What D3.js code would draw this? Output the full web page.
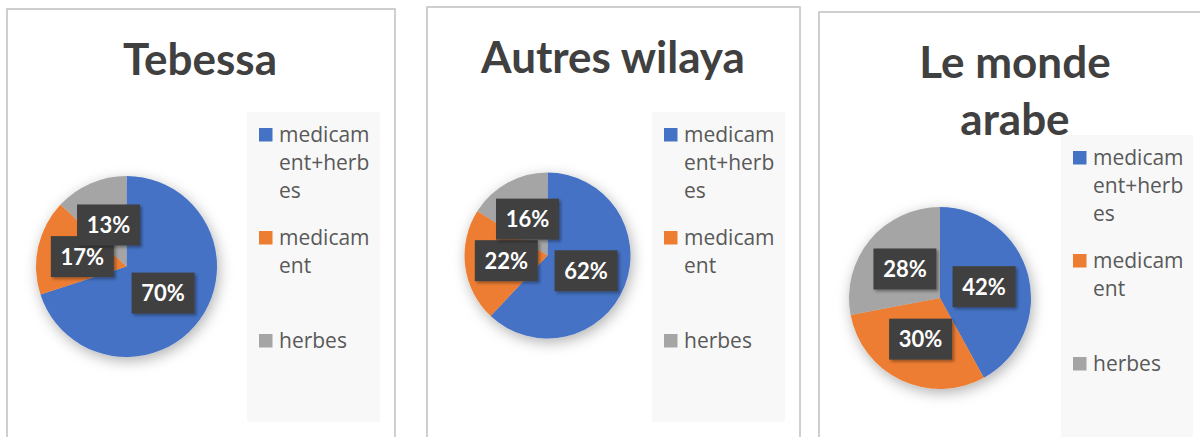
<!DOCTYPE html>
<meta charset="utf-8">

<script src="https://d3js.org/d3.v7.min.js"></script>

<style type="text/css">

body {
  margin: 0;
  background: white;
}

.frame {
  fill: white;
  stroke: #c0c0c0;
  stroke-width: 1.5px;
}

.title {
  font-family: Lato, sans-serif;
  font-weight: 700;
  font-size: 44px;
  fill: #404040;
}

.legendBox {
  fill: #f8f8f8;
}

.legend text {
  font-family: "Open Sans", sans-serif;
  font-size: 21px;
  fill: #595959;
}

.labelBox {
  fill: #404040;
}

.labelText {
  font-family: Lato, sans-serif;
  font-weight: 700;
  font-size: 22px;
  fill: white;
}

</style>

<body>
</body>

<script>

  const width = 1200;
  const height = 437;

  // data
  const categories = ["medicament+herbes", "medicament", "herbes"];
  const titles = ["Tebessa", "Autres wilaya", "Le monde arabe"];
  const tebessa = [70, 17, 13];
  const autresWilaya = [62, 22, 16];
  const mondeArabe = [42, 30, 28];
  const series = [tebessa, autresWilaya, mondeArabe];

  const colors = d3.scaleOrdinal()
    .domain(categories)
    .range(["#4472c4", "#ed7d31", "#a5a5a5"]);

  // layout of the three chart boxes
  const panels = [
    {x: 7,   y: 9,  w: 388, titleX: 200,  titleY: 75, cx: 126.5, cy: 266.5, r: 90.5, legX: 247,  legY: 112, legW: 133},
    {x: 427, y: 7,  w: 373, titleX: 613,  titleY: 73, cx: 547.5, cy: 255.5, r: 83,   legX: 652,  legY: 112, legW: 133},
    {x: 819, y: 12, w: 400, titleX: 1015, titleY: 78, cx: 940,   cy: 298,   r: 91,   legX: 1061, legY: 135, legW: 132}
  ];
  const legendH = 310;
  const itemStep = 103;
  const lineH = 28.3;
  const boxW = 63;
  const boxH = 41;

  const svg = d3.select("body").append("svg")
    .attr("width", width)
    .attr("height", height);

  const defs = svg.append("defs");

  // soft shadow under the pies
  const shadow = defs.append("filter")
    .attr("id", "pieShadow")
    .attr("x", "-30%").attr("y", "-30%")
    .attr("width", "160%").attr("height", "160%");
  shadow.append("feDropShadow")
    .attr("dx", 2).attr("dy", 4)
    .attr("stdDeviation", 7)
    .attr("flood-color", "#000")
    .attr("flood-opacity", 0.3);

  const boxShadow = defs.append("filter")
    .attr("id", "boxShadow")
    .attr("x", "-20%").attr("y", "-20%")
    .attr("width", "150%").attr("height", "150%");
  boxShadow.append("feDropShadow")
    .attr("dx", 2).attr("dy", 2)
    .attr("stdDeviation", 1.5)
    .attr("flood-color", "#000")
    .attr("flood-opacity", 0.35);

  // dotted texture of the data labels
  const dots = defs.append("pattern")
    .attr("id", "dots")
    .attr("width", 7).attr("height", 7)
    .attr("patternUnits", "userSpaceOnUse");
  dots.append("rect").attr("width", 7).attr("height", 7).attr("fill", "#404040");
  dots.append("circle").attr("cx", 1.5).attr("cy", 1.5).attr("r", 0.9).attr("fill", "#555");
  dots.append("circle").attr("cx", 5).attr("cy", 5).attr("r", 0.9).attr("fill", "#4d4d4d");

  const pie = d3.pie().sort(null).value(d => d);

  // breaks a string on words (or on letters when asked) so it fits maxW
  function wrap(textSel, str, maxW, byChar) {
    const parts = byChar ? str.split("") : str.split(" ");
    const sep = byChar ? "" : " ";
    const lines = [];
    let line = "";
    parts.forEach(p => {
      const test = line ? line + sep + p : p;
      textSel.text(test);
      if (line && textSel.node().getComputedTextLength() > maxW) {
        lines.push(line);
        line = p;
      } else {
        line = test;
      }
    });
    lines.push(line);
    textSel.text(null);
    return lines;
  }

  panels.forEach((p, i) => {
    const g = svg.append("g").attr("class", "panel");

    g.append("rect")
      .attr("class", "frame")
      .attr("x", p.x)
      .attr("y", p.y)
      .attr("width", p.w)
      .attr("height", height + 20);

    // title
    const title = g.append("text")
      .attr("class", "title")
      .attr("text-anchor", "middle");
    const titleLines = wrap(title, titles[i], 290, false);
    title.selectAll("tspan")
      .data(titleLines).enter().append("tspan")
      .attr("x", p.titleX)
      .attr("y", (d, j) => p.titleY + j * 57)
      .text(d => d);

    // pie
    const arc = d3.arc().innerRadius(0).outerRadius(p.r);
    const arcs = pie(series[i]);

    const pieG = g.append("g")
      .attr("transform", "translate(" + p.cx + "," + p.cy + ")");

    pieG.append("g")
      .attr("filter", "url(#pieShadow)")
      .selectAll("path")
      .data(arcs).enter().append("path")
      .attr("d", arc)
      .attr("fill", (d, j) => colors(categories[j]));

    // data labels
    const labels = pieG.selectAll(".label")
      .data(arcs).enter().append("g")
      .attr("class", "label")
      .attr("transform", d => "translate(" + arc.centroid(d) + ")");

    labels.append("rect")
      .attr("class", "labelBox")
      .attr("x", -boxW / 2)
      .attr("y", -boxH / 2)
      .attr("width", boxW)
      .attr("height", boxH)
      .attr("fill", "url(#dots)")
      .attr("filter", "url(#boxShadow)");

    labels.append("text")
      .attr("class", "labelText")
      .attr("text-anchor", "middle")
      .attr("dy", "0.36em")
      .text(d => d.data + "%");

    // legend
    const legend = g.append("g").attr("class", "legend");

    legend.append("rect")
      .attr("class", "legendBox")
      .attr("x", p.legX)
      .attr("y", p.legY)
      .attr("width", p.legW)
      .attr("height", legendH);

    const items = legend.selectAll(".item")
      .data(categories).enter().append("g")
      .attr("class", "item")
      .attr("transform", (d, j) => "translate(" + (p.legX + 12) + "," + (p.legY + 16 + j * itemStep) + ")");

    items.append("rect")
      .attr("width", 13.5)
      .attr("height", 13.5)
      .attr("fill", d => colors(d));

    items.each(function(d) {
      const t = d3.select(this).append("text");
      const lines = wrap(t, d, 95, true);
      t.selectAll("tspan")
        .data(lines).enter().append("tspan")
        .attr("x", 20)
        .attr("y", (l, k) => 13.5 + k * lineH)
        .text(l => l);
    });
  });

</script>
